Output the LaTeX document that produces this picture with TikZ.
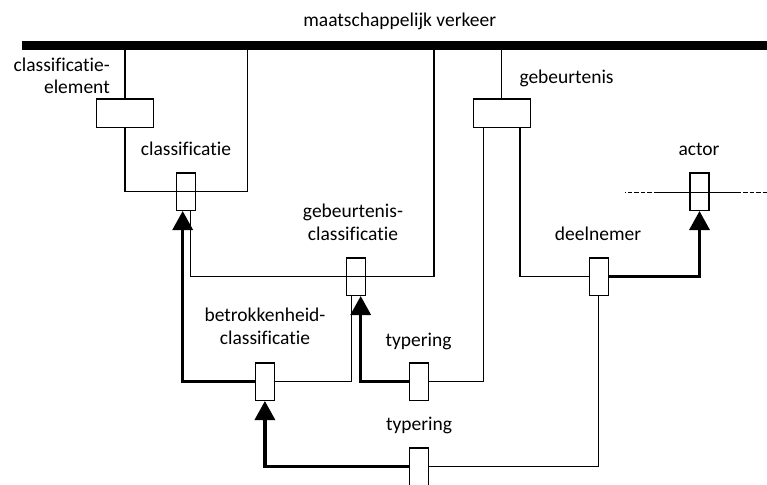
\documentclass[tikz,border=0pt]{standalone}
\usepackage{fontspec}
\setmainfont{Carlito}[Ligatures=NoCommon]
\usetikzlibrary{arrows.meta}
\begin{document}
\begin{tikzpicture}[x=1pt,y=-1pt,
  lbl/.style={inner sep=0pt, font=\fontsize{19.5}{22.5}\selectfont},
  sbox/.style={draw, line width=1.3pt, minimum width=19pt, minimum height=37.3pt, inner sep=0pt},
  bbox/.style={draw, line width=1.3pt, minimum width=57pt, minimum height=28.5pt, inner sep=0pt},
  conn/.style={line width=1.3pt},
  strong/.style={line width=3.3pt, -{Triangle[width=20pt,length=19pt]}},
  dashpart/.style={line width=1.3pt, dash pattern=on 4.5pt off 2pt}]
\useasboundingbox (0,0) rectangle (767,484);

% bar
\node[fill=black, inner sep=0pt, minimum width=745pt, minimum height=9pt, anchor=west] (bar) at (22,45.5) {};

% boxes
\node[bbox] (CE) at (125,113.2) {};
\node[sbox] (C) at (186.3,191.7) {};
\node[bbox] (G) at (501.7,113.3) {};
\node[sbox] (GC) at (356,276.7) {};
\node[sbox] (B) at (264.9,381.7) {};
\node[sbox] (T1) at (419.2,381.7) {};
\node[sbox] (T2) at (418.8,466.7) {};
\node[sbox] (D) at (598.8,276.7) {};
\node[sbox] (A) at (699.5,191.7) {};

% labels
\node[lbl, anchor=base] (title) at (399.7,26.7) {maatschappelijk verkeer};
\node[lbl, anchor=base east] (ce1) at (110,71.7) {classificatie-};
\node[lbl, anchor=base east] (ce2) at (110,94) {element};
\node[lbl, anchor=base] (cl) at (186,155) {classificatie};
\node[lbl, anchor=base west] (gl) at (519.3,83.5) {gebeurtenis};
\node[lbl, anchor=base] (gc1) at (353,217) {gebeurtenis-};
\node[lbl, anchor=base] (gc2) at (353,240) {classificatie};
\node[lbl, anchor=base] (b1) at (265,321.7) {betrokkenheid-};
\node[lbl, anchor=base] (b2) at (265,344.2) {classificatie};
\node[lbl, anchor=base] (t1l) at (418.5,346) {typering};
\node[lbl, anchor=base] (t2l) at (419,430) {typering};
\node[lbl, anchor=base] (dl) at (598,240) {deelnemer};
\node[lbl, anchor=base] (al) at (699,155) {actor};

% coordinates
\coordinate (cR) at (247.3,191.7);
\coordinate (gcR) at (434,276.7);

% thin connectors
\draw[conn] (bar.south -| CE.north) -- (CE.north);
\draw[conn] (CE.south) |- (cR) -- (cR |- bar.south);
\draw[conn] ([xshift=4.4pt]C.south) |- (gcR) -- (gcR |- bar.south);
\draw[conn] (B.east) -| ([xshift=-4.3pt]GC.south);
\draw[conn] (T1.east) -| ([xshift=-18.3pt]G.south);
\draw[conn] (bar.south -| G.north) -- (G.north);
\draw[conn] ([xshift=18.3pt]G.south) |- (D.west);
\draw[conn] (D.south) |- (T2.east);

% actor line
\draw[conn] ([xshift=-41.5pt,yshift=-1pt]A.center) -- ([xshift=37.2pt,yshift=-1pt]A.center);
\draw[dashpart] ([xshift=-41.5pt,yshift=-1pt]A.center) -- ([xshift=-74.5pt,yshift=-1pt]A.center);
\draw[dashpart] ([xshift=37.2pt,yshift=-1pt]A.center) -- ([xshift=68pt,yshift=-1pt]A.center);

% thick arrows
\draw[strong] (B.west) -| ([xshift=-3.6pt]C.south);
\draw[strong] (T1.west) -| ([xshift=4.7pt]GC.south);
\draw[strong] (D.east) -| (A.south);
\draw[strong] (T2.west) -| (B.south);
\end{tikzpicture}
\end{document}
